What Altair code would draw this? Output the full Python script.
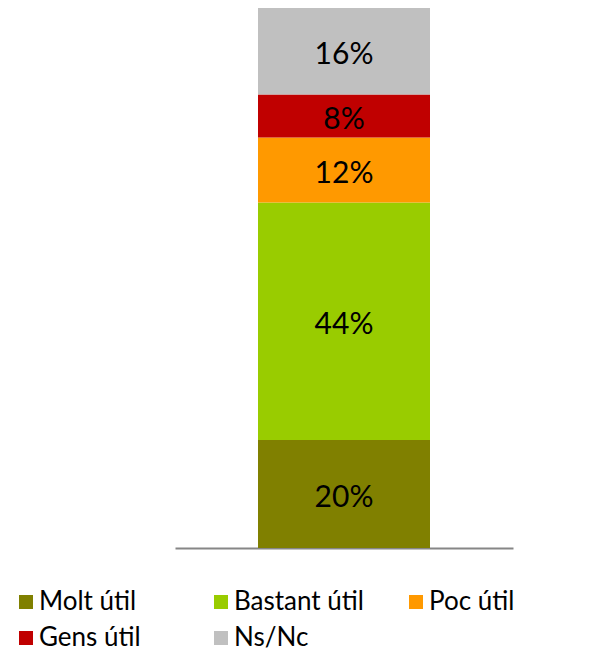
import altair as alt
import pandas as pd

categories = ["Molt útil", "Bastant útil", "Poc útil", "Gens útil", "Ns/Nc"]
values = [20, 44, 12, 8, 16]
labels = ["20%", "44%", "12%", "8%", "16%"]
colors = ["#808000", "#99CC00", "#FF9900", "#C00000", "#C0C0C0"]

df = pd.DataFrame({
    "group": ["A"] * len(categories),
    "cat": categories,
    "value": values,
    "label": labels,
    "ord": list(range(len(categories))),
})

FONT = "Lato"

base = alt.Chart(df).transform_stack(
    stack="value", groupby=["group"], as_=["y0", "y1"],
    sort=[alt.SortField("ord", order="ascending")],
).transform_calculate(mid="(datum.y0 + datum.y1) / 2")

x = alt.X("group:N", axis=alt.Axis(labels=False, ticks=False, title=None,
                                    domainColor="#868686", domainWidth=2, grid=False))
yscale = alt.Scale(domain=[0, 100], nice=False)

bars = base.mark_bar(size=172).encode(
    x=x,
    y=alt.Y("y0:Q", scale=yscale, axis=None),
    y2="y1:Q",
    color=alt.Color("cat:N", scale=alt.Scale(domain=categories, range=colors),
                    sort=categories,
                    legend=alt.Legend(
                        title=None, orient="none", legendX=-162, legendY=581,
                        direction="horizontal",
                        columns=3, symbolType="square", symbolSize=196,
                        symbolStrokeWidth=0, labelFontSize=26, labelFont=FONT,
                        labelColor="#000000", columnPadding=39, rowPadding=10,
                        symbolOffset=0, labelOffset=0, gridAlign="all",
                        labelLimit=300)),
)

text = base.mark_text(fontSize=30, font=FONT, color="#000000", baseline="middle",
                      dy=4).encode(
    x=x,
    y=alt.Y("mid:Q", scale=yscale, axis=None),
    text="label:N",
)

chart = alt.layer(bars, text).properties(
    width=338, height=540,
    padding={"left": 167, "top": 0, "right": 80, "bottom": 103},
    autosize=alt.AutoSizeParams(type="none"),
).configure_view(stroke=None).configure_scale(bandPaddingOuter=0, bandPaddingInner=0)

chart.save("out.html", embed_options={"renderer": "svg", "actions": False})
